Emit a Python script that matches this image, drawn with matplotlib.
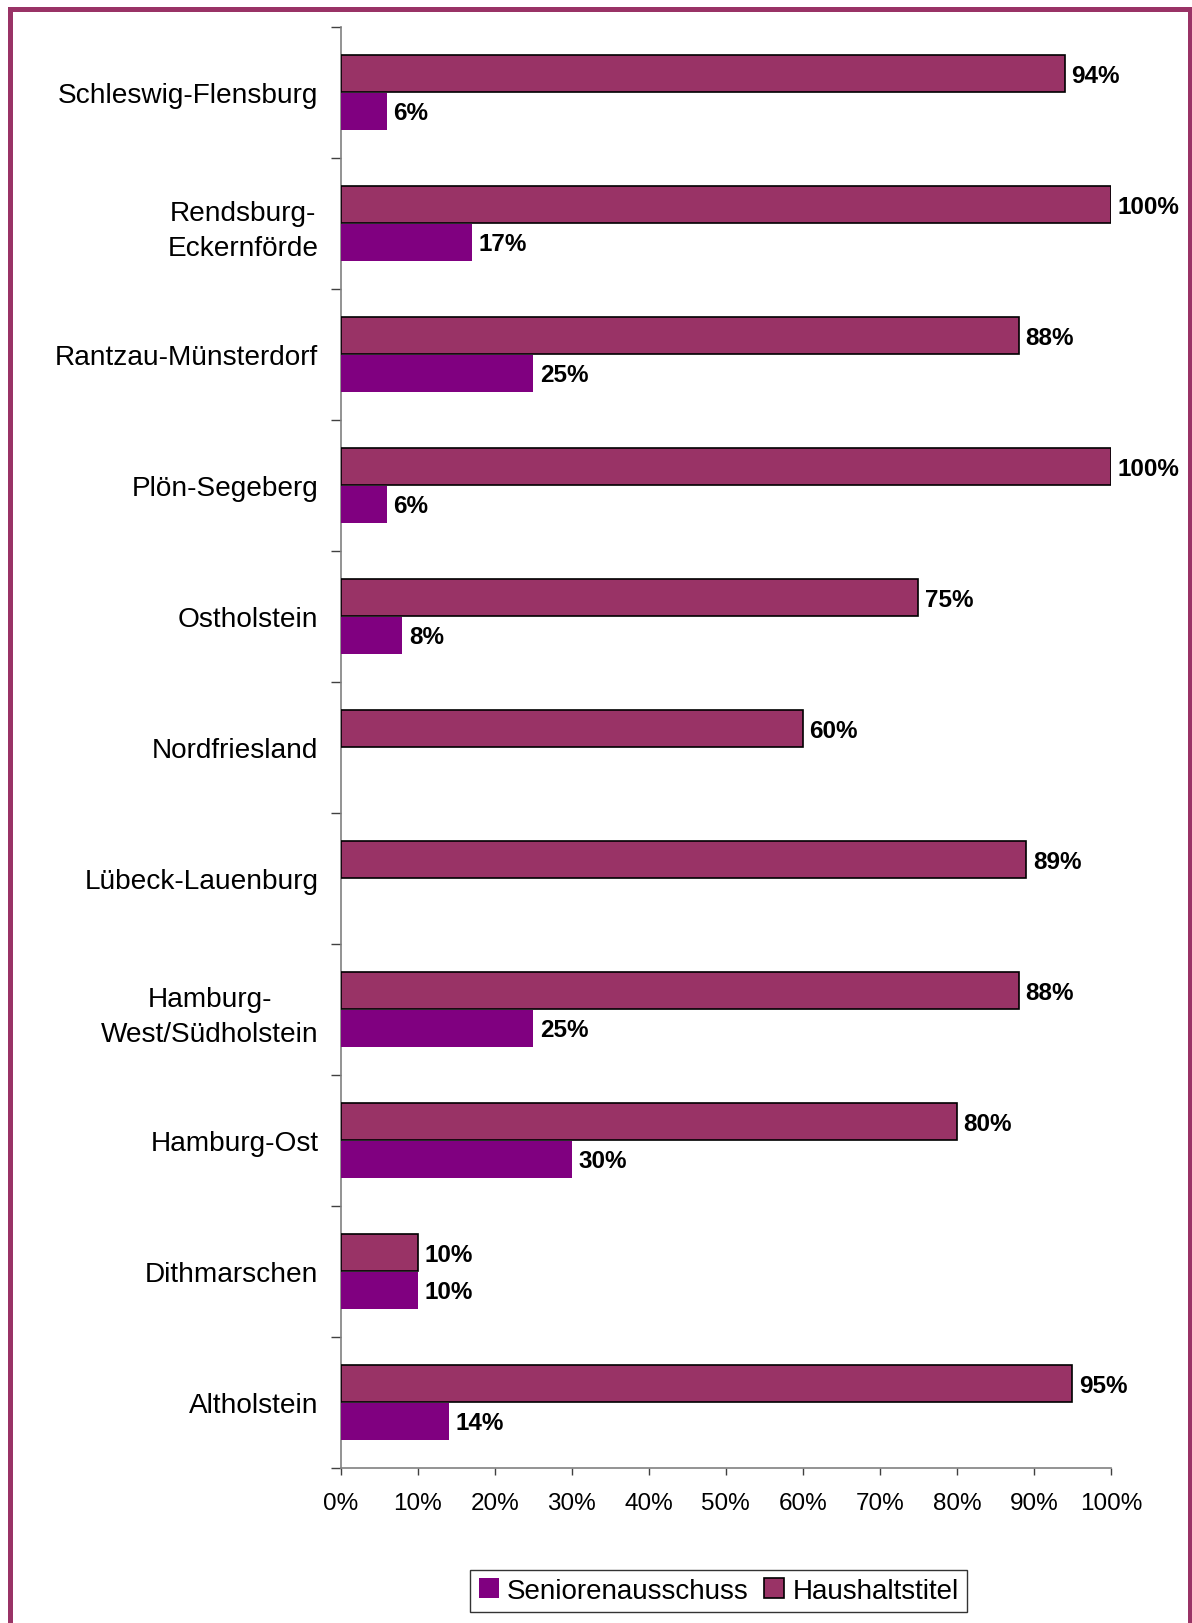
import numpy as np
import matplotlib
matplotlib.use("Agg")
import matplotlib.pyplot as plt
from matplotlib.patches import Rectangle, Patch

plt.rcParams['font.family'] = ['Liberation Sans', 'DejaVu Sans']

categories = ["Schleswig-Flensburg", "Rendsburg-\nEckernförde", "Rantzau-Münsterdorf",
              "Plön-Segeberg", "Ostholstein", "Nordfriesland", "Lübeck-Lauenburg",
              "Hamburg-\nWest/Südholstein", "Hamburg-Ost", "Dithmarschen", "Altholstein"]
haushaltstitel = [94, 100, 88, 100, 75, 60, 89, 88, 80, 10, 95]
seniorenausschuss = [6, 17, 25, 6, 8, None, None, 25, 30, 10, 14]
xticks = [0, 10, 20, 30, 40, 50, 60, 70, 80, 90, 100]

c_haus = '#993366'
c_sen = '#800080'

fig = plt.figure(figsize=(11.92, 16.24), dpi=100)
ax = fig.add_axes([0.2858, 0.0955, 0.932 - 0.2858, 0.9828 - 0.0955])

y = np.arange(len(categories))
h = 0.283
off = 0.1425
ax.barh(y - off, haushaltstitel, height=h, color=c_haus, edgecolor='black', linewidth=1.2, zorder=3)
sen_vals = [np.nan if v is None else v for v in seniorenausschuss]
ax.barh(y + off, sen_vals, height=h, color=c_sen, edgecolor='none', zorder=3)

for yi, v in zip(y, haushaltstitel):
    ax.text(v + 0.85, yi - off + 0.01, f"{v}%", va='center', ha='left', fontsize=17.5, fontweight='bold')
for yi, v in zip(y, seniorenausschuss):
    if v is not None:
        ax.text(v + 0.85, yi + off + 0.01, f"{v}%", va='center', ha='left', fontsize=17.5, fontweight='bold')

ax.set_xlim(0, 100)
ax.set_ylim(len(categories) - 0.5, -0.5)
ax.set_xticks(xticks)
ax.set_xticklabels([f"{t}%" for t in xticks], fontsize=17.5)
ax.set_yticks(np.arange(-0.5, len(categories), 1.0))
ax.set_yticklabels([])
ax.set_yticks(y, minor=True)
ax.set_yticklabels(categories, minor=True, fontsize=20.2, linespacing=1.42)
for lbl in ax.get_yticklabels(minor=True):
    lbl.set_multialignment('center')
ax.tick_params(axis='y', which='major', direction='out', length=7.5, width=1, color='#404040')
ax.tick_params(axis='y', which='minor', length=0, pad=16)
ax.tick_params(axis='x', direction='out', length=5, width=1, color='#404040', pad=12.5)

for s in ['top', 'right']:
    ax.spines[s].set_visible(False)
for s in ['left', 'bottom']:
    ax.spines[s].set_color('#808080')
    ax.spines[s].set_linewidth(1.2)

handles = [Patch(facecolor=c_sen, edgecolor='none', label='Seniorenausschuss'),
           Patch(facecolor=c_haus, edgecolor='black', linewidth=1.2, label='Haushaltstitel')]
leg = fig.legend(handles=handles, loc='center', bbox_to_anchor=(0.603, 0.0197), ncol=2,
                 fontsize=20, frameon=True, fancybox=False, edgecolor='black',
                 handlelength=0.72, handleheight=0.72, handletextpad=0.3,
                 columnspacing=0.55, borderpad=0.3, borderaxespad=0)
leg.get_frame().set_linewidth(1.0)

# outer border
W, H = 1192, 1624
fig.patches.append(Rectangle((9.5 / W, -0.05), (1189.5 - 9.5) / W, 1 + 0.05 - 9.5 / H,
                             transform=fig.transFigure, fill=False, edgecolor='#993366',
                             linewidth=3.6, zorder=10))

fig.savefig('out.png', dpi=100)
